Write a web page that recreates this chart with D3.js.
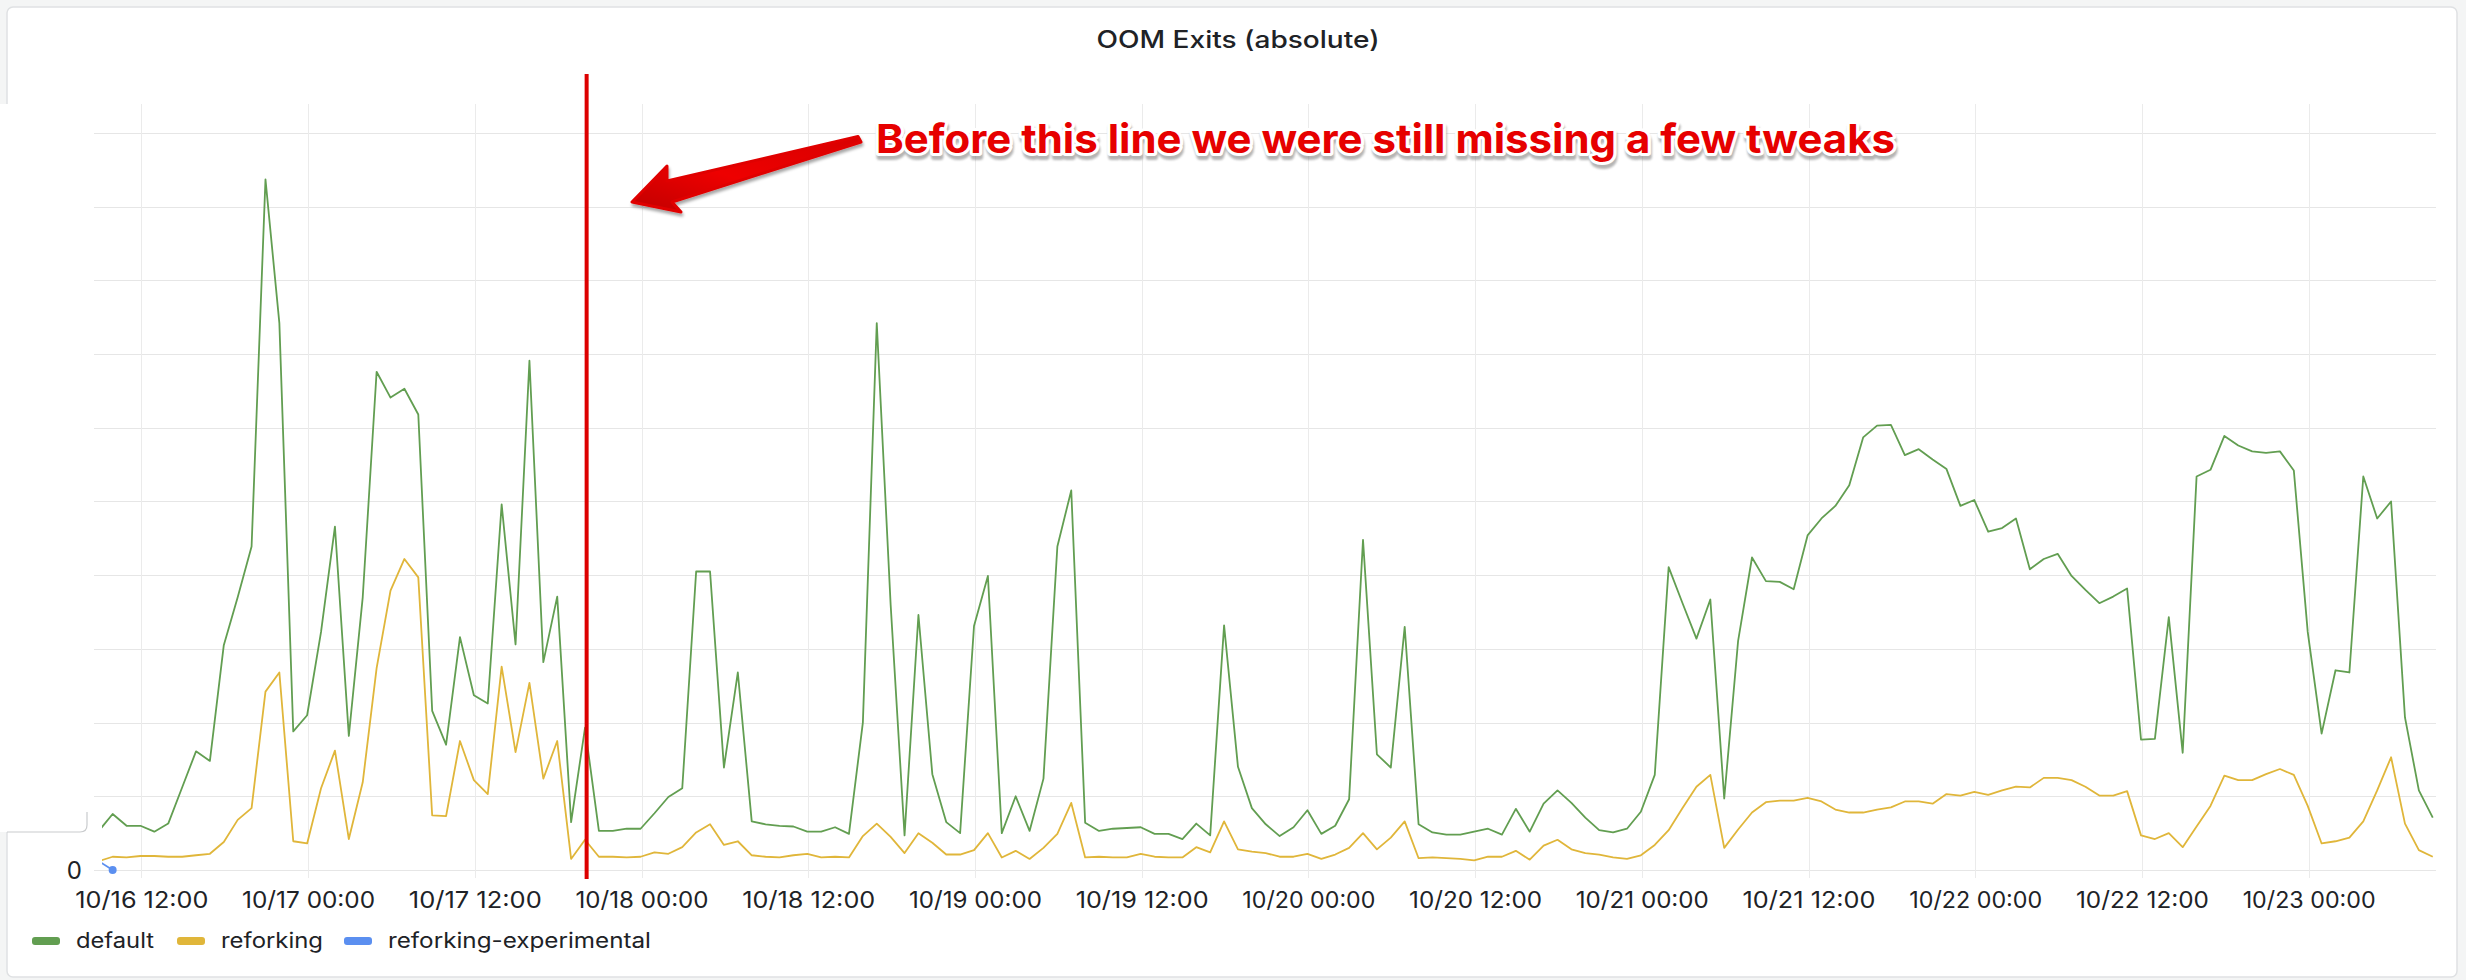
<!DOCTYPE html>
<html>
<head>
<meta charset="utf-8">
<script src="https://cdn.jsdelivr.net/npm/d3@7"></script>
<style>
  html, body { margin: 0; padding: 0; background: #f4f5f5; }
  svg { display: block; }
  text { font-family: Inter, "Noto Sans", sans-serif; }
</style>
</head>
<body>
<svg id="chart" width="2466" height="980"></svg>
<script>
// ---------- DATA ----------
const chartTitle = "OOM Exits (absolute)";
const annotationText = "Before this line we were still missing a few tweaks";
const seriesNames = ["default", "reforking", "reforking-experimental"];
const seriesColors = ["#629e51", "#e0b63a", "#5b8ff0"];
const firstSample = "2023-10-16T08:56";   // hourly samples
const domainStart = "2023-10-16T09:10";
const domainEnd = "2023-10-23T09:10";
const markerTime = "2023-10-17T20:03";
const tickTimes = ["2023-10-16T12:00","2023-10-17T00:00","2023-10-17T12:00","2023-10-18T00:00",
  "2023-10-18T12:00","2023-10-19T00:00","2023-10-19T12:00","2023-10-20T00:00","2023-10-20T12:00",
  "2023-10-21T00:00","2023-10-21T12:00","2023-10-22T00:00","2023-10-22T12:00","2023-10-23T00:00"];
const yTicks = [0,10,20,30,40,50,60,70,80,90,100];

const defaultValues = [5.3,7.6,6.0,6.0,5.2,6.3,11.2,16.1,14.8,30.5,37.0,43.9,93.7,74.2,18.8,21.0,32.3,46.6,18.2,37.0,
 67.6,64.1,65.3,61.8,21.6,17.0,31.6,23.7,22.6,49.6,30.6,69.1,28.2,37.1,6.5,19.3,5.3,5.3,5.6,5.6,
 7.7,9.9,11.1,40.5,40.5,13.9,26.8,6.6,6.2,6.0,5.9,5.2,5.2,5.8,4.9,20.0,74.2,36.0,4.7,34.6,
 13.0,6.5,5.0,33.1,39.9,5.0,10.0,5.3,12.4,43.9,51.5,6.4,5.3,5.6,5.7,5.8,4.9,4.9,4.2,6.3,
 4.7,33.2,14.0,8.4,6.2,4.6,5.8,8.1,4.9,6.0,9.6,44.8,15.7,13.9,33.0,6.2,5.1,4.8,4.8,5.2,
 5.6,4.8,8.3,5.2,9.0,10.8,9.1,7.1,5.4,5.1,5.6,7.9,12.9,41.1,36.2,31.4,36.7,9.7,31.1,42.4,
 39.2,39.1,38.1,45.4,47.7,49.4,52.2,58.7,60.3,60.4,56.3,57.1,55.7,54.4,49.4,50.2,45.9,46.4,47.7,40.8,
 42.2,42.9,39.9,38.0,36.2,37.1,38.2,17.7,17.8,34.3,15.9,53.4,54.3,58.9,57.6,56.8,56.6,56.8,54.2,32.3,
 18.5,27.1,26.8,53.4,47.7,50.0,20.7,10.8,7.1];
const reforkingValues = [1.2,1.8,1.7,1.9,1.9,1.8,1.8,2.0,2.2,3.8,6.8,8.4,24.2,26.8,3.9,3.6,11.1,16.2,4.2,11.9,
 27.4,37.9,42.2,39.7,7.4,7.3,17.5,12.2,10.3,27.6,16.0,25.4,12.4,17.5,1.5,4.1,1.8,1.8,1.7,1.8,
 2.4,2.2,3.1,5.1,6.2,3.4,3.9,2.0,1.8,1.7,2.0,2.2,1.7,1.8,1.7,4.6,6.3,4.5,2.3,5.0,
 3.7,2.1,2.1,2.7,5.0,1.7,2.6,1.5,3.0,4.9,9.1,1.7,1.8,1.7,1.7,2.2,1.8,1.7,1.7,3.1,
 2.4,6.6,2.8,2.5,2.3,1.8,1.8,2.2,1.5,2.1,3.0,5.0,2.8,4.4,6.6,1.6,1.7,1.6,1.5,1.3,
 1.8,1.8,2.6,1.4,3.3,4.1,2.8,2.3,2.1,1.7,1.5,2.0,3.4,5.4,8.4,11.3,12.9,3.0,5.5,7.8,
 9.2,9.4,9.4,9.8,9.3,8.2,7.8,7.8,8.2,8.5,9.3,9.3,9.0,10.3,10.1,10.6,10.2,10.8,11.3,11.2,
 12.5,12.5,12.2,11.3,10.1,10.1,10.7,4.7,4.2,5.0,3.1,5.9,8.7,12.8,12.2,12.2,13.0,13.7,12.9,8.7,
 3.6,3.9,4.4,6.6,10.8,15.3,6.3,2.7,1.8];
const experimentalValues = [1.2, 0];

// ---------- LAYOUT ----------
const W = 2466, H = 980;
const plot = { left: 102, right: 2436, top: 104, bottom: 870 };
const parse = d3.isoParse;
const t0 = parse(firstSample);
const times = defaultValues.map((_, i) => d3.timeHour.offset(t0, i));

const svg = d3.select("#chart");

const defs = svg.append("defs");
defs.append("clipPath").attr("id", "plotClip")
  .append("rect").attr("x", plot.left).attr("y", plot.top - 10)
  .attr("width", plot.right - plot.left).attr("height", plot.bottom - plot.top + 20);
const grad = defs.append("linearGradient").attr("id", "arrowGrad")
  .attr("x1", "1").attr("y1", "0").attr("x2", "0").attr("y2", "1");
grad.append("stop").attr("offset", "0%").attr("stop-color", "#d80000");
grad.append("stop").attr("offset", "55%").attr("stop-color", "#ee0000");
grad.append("stop").attr("offset", "100%").attr("stop-color", "#c00000");
const shadow = defs.append("filter").attr("id", "shadow").attr("x", "-20%").attr("y", "-50%")
  .attr("width", "140%").attr("height", "200%");
shadow.append("feDropShadow").attr("dx", 1).attr("dy", 3).attr("stdDeviation", 1.5)
  .attr("flood-color", "#000").attr("flood-opacity", 0.35);
const blur = defs.append("filter").attr("id", "blur");
blur.append("feGaussianBlur").attr("stdDeviation", 1.2);

// panel
svg.append("rect").attr("x", 7).attr("y", 7).attr("width", 2450).attr("height", 970)
  .attr("rx", 6).attr("fill", "#ffffff").attr("stroke", "#dfe1e3").attr("stroke-width", 1.5);

// title
svg.append("text").attr("x", 1238).attr("y", 48).attr("text-anchor", "middle")
  .attr("font-size", 24).attr("font-weight", 500).attr("fill", "#202226")
  .attr("textLength", 283).attr("lengthAdjust", "spacingAndGlyphs")
  .text(chartTitle);

// scales
const x = d3.scaleTime().domain([parse(domainStart), parse(domainEnd)]).range([plot.left, plot.right]);
const y = d3.scaleLinear().domain([0, (plot.bottom - plot.top) / 7.37]).range([plot.bottom, plot.top]);

// grid
const grid = svg.append("g");
grid.selectAll("line.h").data(yTicks).join("line").attr("class", "h")
  .attr("x1", 94).attr("x2", plot.right)
  .attr("y1", d => Math.round(y(d)) + 0.5).attr("y2", d => Math.round(y(d)) + 0.5)
  .attr("stroke", "#e6e6e6").attr("stroke-width", 1.2);
const ticks = tickTimes.map(parse);
grid.selectAll("line.v").data(ticks).join("line").attr("class", "v")
  .attr("x1", d => Math.round(x(d)) + 0.5).attr("x2", d => Math.round(x(d)) + 0.5)
  .attr("y1", plot.top).attr("y2", 878)
  .attr("stroke", "#ebebeb").attr("stroke-width", 1);

// x axis labels
const xAxis = d3.axisBottom(x).tickValues(ticks).tickFormat(d3.timeFormat("%m/%d %H:%M")).tickSize(0).tickPadding(0);
const gx = svg.append("g").attr("transform", `translate(0, ${908})`).call(xAxis);
gx.select(".domain").remove();
gx.selectAll("text").attr("font-size", 23).attr("fill", "#202226").attr("dy", 0)
  .attr("font-family", "Inter, sans-serif")
  .attr("textLength", 133).attr("lengthAdjust", "spacingAndGlyphs");

// lines
const lineGen = d3.line().defined(d => d.v != null).x(d => x(d.t)).y(d => y(d.v));
const plotG = svg.append("g").attr("clip-path", "url(#plotClip)");
const allSeries = [defaultValues, reforkingValues, experimentalValues];
[1, 0].forEach(i => {
  const pts = allSeries[i].map((v, k) => ({ t: times[k], v }));
  plotG.append("path").datum(pts).attr("d", lineGen)
    .attr("fill", "none").attr("stroke", seriesColors[i]).attr("stroke-width", 1.8)
    .attr("stroke-linejoin", "round");
});
{
  const pts = experimentalValues.map((v, k) => ({ t: times[k], v }));
  plotG.append("path").datum(pts).attr("d", lineGen)
    .attr("fill", "none").attr("stroke", seriesColors[2]).attr("stroke-width", 1.8);
  plotG.append("circle").attr("cx", x(times[1])).attr("cy", y(experimentalValues[1]))
    .attr("r", 4).attr("fill", seriesColors[2]);
}

// overlay that hides y axis labels (as in the screenshot)
svg.append("rect").attr("x", 0).attr("y", 104).attr("width", 87).attr("height", 728).attr("fill", "#ffffff");
svg.append("path").attr("d", "M7,832 H80 Q87,832 87,825 V812")
  .attr("fill", "none").attr("stroke", "#c9cbcd").attr("stroke-width", 1.2);

// y zero label
svg.append("text").attr("x", 82).attr("y", y(0) + 9).attr("text-anchor", "end")
  .attr("font-size", 24).attr("fill", "#202226").text(d3.format("d")(yTicks[0]));

// legend
const legend = svg.append("g");
const legendX = [32, 177, 344];
const legendTextW = [78, 102, 263];
seriesNames.forEach((name, i) => {
  legend.append("rect").attr("x", legendX[i]).attr("y", 937).attr("width", 28).attr("height", 8)
    .attr("rx", 3).attr("fill", seriesColors[i]);
  legend.append("text").attr("x", legendX[i] + 44).attr("y", 948)
    .attr("font-size", 21).attr("fill", "#202226")
    .attr("textLength", legendTextW[i]).attr("lengthAdjust", "spacingAndGlyphs")
    .text(name);
});

// annotation: vertical red line
const mx = x(parse(markerTime));
svg.append("line").attr("x1", mx).attr("x2", mx).attr("y1", 74).attr("y2", 879)
  .attr("stroke", "#dd0000").attr("stroke-width", 4);

// annotation: arrow
svg.append("path")
  .attr("d", "M858,136.5 L667,181 L667,166 L632,202 L681,212 L672,202 L861,142 Z")
  .attr("fill", "url(#arrowGrad)").attr("stroke", "#e00000").attr("stroke-width", 3)
  .attr("stroke-linejoin", "round").attr("filter", "url(#shadow)");

// annotation text
const ann = svg.append("g");
const annAttrs = s => s.attr("x", 876).attr("y", 153)
  .attr("font-family", "'Open Sans', 'Noto Sans', sans-serif")
  .attr("font-weight", 700).attr("font-size", 40)
  .attr("textLength", 1019).attr("lengthAdjust", "spacingAndGlyphs").text(annotationText);
ann.append("text").call(annAttrs).attr("transform", "translate(1,4)")
  .attr("fill", "#777").attr("stroke", "#777").attr("stroke-width", 6)
  .attr("stroke-linejoin", "round").attr("opacity", 0.55).attr("filter", "url(#blur)");
ann.append("text").call(annAttrs).attr("fill", "#fff").attr("stroke", "#fff")
  .attr("stroke-width", 6).attr("stroke-linejoin", "round");
ann.append("text").call(annAttrs).attr("fill", "#e60000");
</script>
</body>
</html>
